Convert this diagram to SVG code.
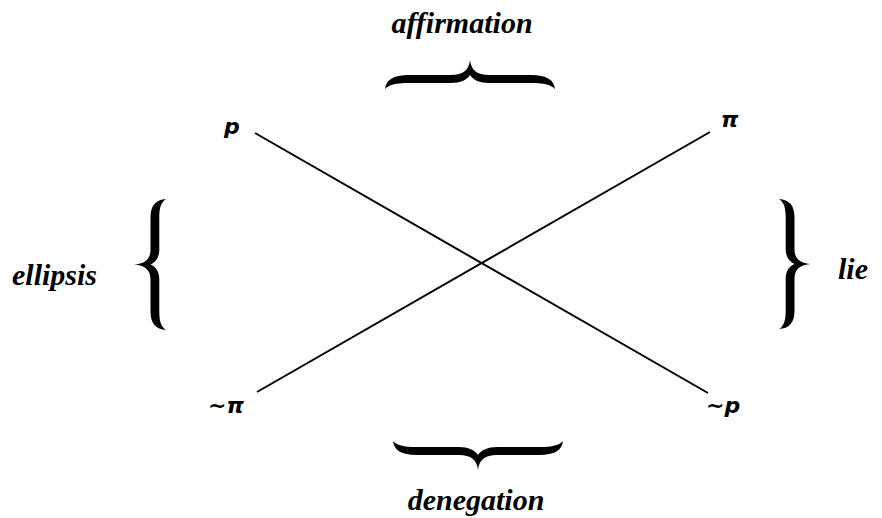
<svg xmlns="http://www.w3.org/2000/svg" width="882" height="518" viewBox="0 0 882 518">
<style>
.big{font-weight:bold;font-style:italic;font-size:30px;fill:#000}
.sm{font-family:"DejaVu Sans",sans-serif;font-weight:bold;font-style:italic;font-size:22px;fill:#000}
.ln{stroke:#000;stroke-width:2;fill:none}
.br{fill:#000}
</style>
<defs>
<path id="brace" d="M0,29 C1,20 8,15 24,15 L66,15 C78,15 84,10 85,0 C86,10 92,15 104,15 L146,15 C162,15 169,20 170,29 C166,25 160,23 146,23 L104,23 C95,23 88,20 85,15 C82,20 75,23 66,23 L24,23 C10,23 4,25 0,29 Z"/>
</defs>
<rect width="882" height="518" fill="#fff"/>
<g id="connectors">
<line class="ln" x1="255" y1="133" x2="708" y2="393"/>
<line class="ln" x1="257" y1="392" x2="710" y2="132"/>
</g>
<g id="node-p"><text class="sm" x="224" y="134">p</text></g>
<g id="node-pi"><text class="sm" x="721" y="127">π</text></g>
<g id="node-notpi"><text class="sm" x="208" y="413">~π</text></g>
<g id="node-notp"><text class="sm" x="706" y="413">~p</text></g>
<g id="affirmation">
<text class="big" font-family="Liberation Serif, DejaVu Serif, serif" x="462" y="33" text-anchor="middle">affirmation</text>
<use href="#brace" class="br" transform="translate(385,60)"/>
</g>
<g id="ellipsis">
<text class="big" font-family="Liberation Serif, DejaVu Serif, serif" x="12" y="285">ellipsis</text>
<use href="#brace" class="br" transform="translate(134,330) rotate(-90) scale(0.77,1.1)"/>
</g>
<g id="lie">
<text class="big" font-family="Liberation Serif, DejaVu Serif, serif" x="838" y="279">lie</text>
<use href="#brace" class="br" transform="translate(811,199) rotate(90) scale(0.765,1.1)"/>
</g>
<g id="denegation">
<use href="#brace" class="br" transform="translate(393,470) scale(1,-1)"/>
<text class="big" font-family="Liberation Serif, DejaVu Serif, serif" x="476" y="510" text-anchor="middle">denegation</text>
</g>
</svg>
